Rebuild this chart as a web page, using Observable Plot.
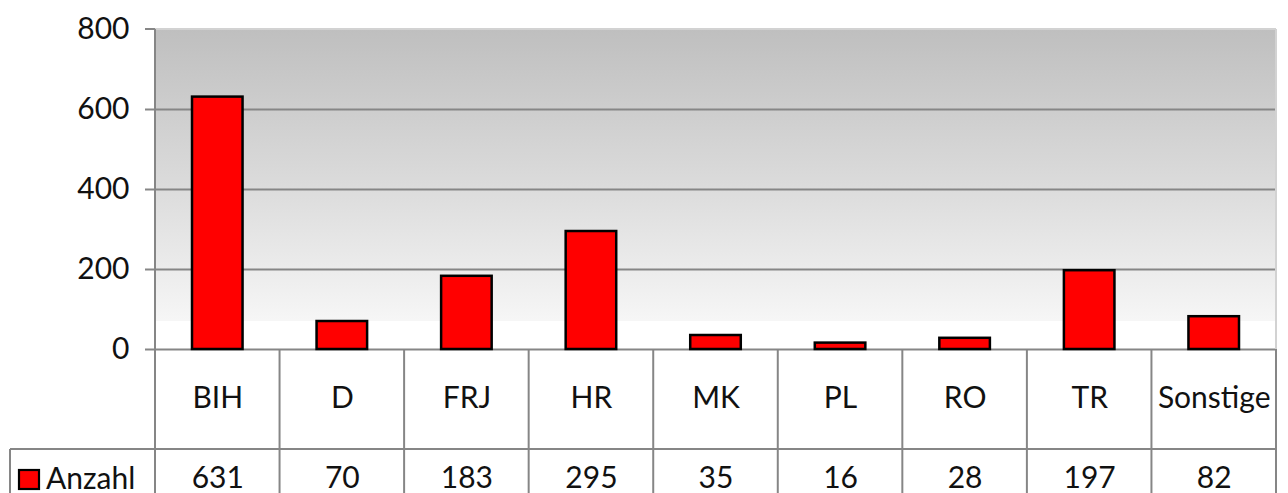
<!DOCTYPE html>
<html>
<head>
<meta charset="utf-8">
<script src="https://cdn.jsdelivr.net/npm/d3@7"></script>
<script src="https://cdn.jsdelivr.net/npm/@observablehq/plot@0.6"></script>
<style>
  html, body { margin: 0; padding: 0; background: #fff; }
</style>
</head>
<body>
<div id="chart"></div>
<script>
const categories = ["BIH", "D", "FRJ", "HR", "MK", "PL", "RO", "TR", "Sonstige"];
const values = [631, 70, 183, 295, 35, 16, 28, 197, 82];
const yTicks = [0, 200, 400, 600, 800];
const seriesName = "Anzahl";

const rows = categories.map((c, i) => ({cat: c, value: values[i]}));
const gridColor = "#868686";
const FONT = "Lato, 'Open Sans', sans-serif";
const FS = 30;

function tableGrid(index, scales, vals, dims) {
  const g = d3.create("svg:g");
  const x = scales.x;
  const y0 = scales.y(0);
  const yTop = scales.y(800);
  const split = y0 + 100;
  const bottom = dims.height;
  const left = dims.marginLeft;
  const right = dims.width - dims.marginRight;
  const line = (x1, y1, x2, y2, color = gridColor) => g.append("line")
    .attr("x1", x1).attr("y1", y1).attr("x2", x2).attr("y2", y2)
    .attr("stroke", color).attr("stroke-width", 2);
  // plot-area border (light) top and right
  line(left, yTop, right, yTop, "#d2d2d2");
  line(right, yTop, right, y0, "#d2d2d2");
  // tick mark at top
  line(left - 10, yTop, left, yTop);
  // vertical column lines
  categories.forEach(c => { if (x(c) > left + 1) line(x(c), y0, x(c), bottom); });
  line(right, y0, right, bottom);
  line(left, yTop, left, bottom);
  // horizontal row split including legend cell
  line(10, split, right, split);
  line(10, split, 10, bottom);
  // legend key
  g.append("rect").attr("x", 19).attr("y", 470).attr("width", 20).attr("height", 19)
    .attr("fill", "#ff0000").attr("stroke", "#000").attr("stroke-width", 2.2);
  g.append("text").attr("x", 46).attr("y", 478).attr("dy", "0.35em")
    .attr("text-anchor", "start")
    .attr("font-size", FS).attr("fill", "#111").text(seriesName);
  return g.node();
}

const chart = Plot.plot({
  width: 1288,
  height: 493,
  marginLeft: 155,
  marginRight: 12,
  marginTop: 29,
  marginBottom: 144,
  x: {domain: categories, padding: 0, round: false, axis: null},
  y: {domain: [0, 800], axis: null},
  style: {fontFamily: FONT, fontSize: FS + "px", background: "#fff", color: "#111", overflow: "visible"},
  marks: [
    Plot.frame({fill: "url(#bgGrad)", stroke: "none"}),
    Plot.ruleY(yTicks.filter(t => t > 0 && t < 800), {stroke: gridColor, strokeWidth: 2.2, insetLeft: -10}),
    Plot.ruleY([0], {stroke: gridColor, strokeWidth: 2.2, insetLeft: -10}),
    Plot.barY(rows, {x: "cat", y: "value", fill: "#ff0000", stroke: "#000", strokeWidth: 2.5, insetLeft: 37, insetRight: 37}),
    Plot.text(yTicks, {y: d => d, text: d => String(d), frameAnchor: "left", textAnchor: "end", dx: -26, fontSize: FS, fill: "#111"}),
    tableGrid,
    Plot.text(rows, {x: "cat", y: 0, text: "cat", dy: 49, fontSize: FS, fill: "#111"}),
    Plot.text(rows, {x: "cat", y: 0, text: d => String(d.value), dy: 129, fontSize: FS, fill: "#111"})
  ]
});

d3.select(chart).insert("defs", ":first-child").html(
  `<linearGradient id="bgGrad" x1="0" y1="0" x2="0" y2="1">
     <stop offset="0" stop-color="#bfbfbf"/>
     <stop offset="0.5" stop-color="#dcdcdc"/>
     <stop offset="0.91" stop-color="#f6f6f6"/>
     <stop offset="0.91" stop-color="#ffffff"/>
     <stop offset="1" stop-color="#ffffff"/>
   </linearGradient>`
);

document.getElementById("chart").appendChild(chart);
</script>
</body>
</html>
